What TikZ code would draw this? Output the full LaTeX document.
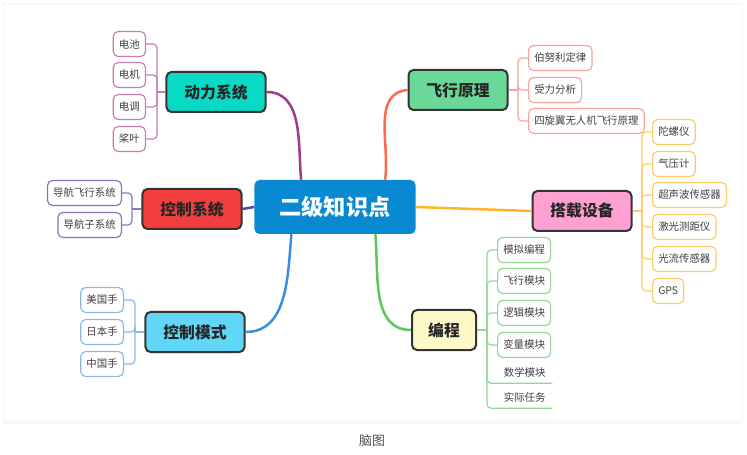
\documentclass[tikz,border=0pt]{standalone}
\usepackage{fontspec}
\setmainfont{Noto Sans CJK SC}
\usetikzlibrary{calc}

\definecolor{rootblue}{HTML}{0A89D3}
\definecolor{topicline}{HTML}{333333}
\definecolor{dlfill}{HTML}{08DAC6}
\definecolor{dlline}{HTML}{A03A8A}
\definecolor{dlleaf}{HTML}{C77DB2}
\definecolor{fxfill}{HTML}{6AD898}
\definecolor{fxline}{HTML}{FF6A4C}
\definecolor{fxleaf}{HTML}{F6A39A}
\definecolor{kzfill}{HTML}{F23E3E}
\definecolor{kzline}{HTML}{5A4AA8}
\definecolor{kzleaf}{HTML}{8676C4}
\definecolor{dzfill}{HTML}{FFA0D2}
\definecolor{dzline}{HTML}{FFB42C}
\definecolor{dzleaf}{HTML}{FFCB66}
\definecolor{bcfill}{HTML}{FFF8C8}
\definecolor{bcline}{HTML}{5CC85C}
\definecolor{bcleaf}{HTML}{92D892}
\definecolor{msfill}{HTML}{62D6F6}
\definecolor{msline}{HTML}{3A8EE0}
\definecolor{msleaf}{HTML}{8CB8E8}

\begin{document}
\begin{tikzpicture}[
    x=0.03cm, y=0.03cm,
    root/.style={rectangle, rounded corners=0.15cm, fill=rootblue, text=white,
        font=\fontsize{19}{19}\selectfont\bfseries, minimum width=4.83cm, minimum height=1.62cm},
    topic/.style={rectangle, rounded corners=0.15cm, draw=topicline, line width=0.06cm,
        font=\fontsize{13.5}{14}\selectfont\bfseries, text=black!85,
        minimum width=2.97cm, minimum height=1.2cm},
    leaf/.style={rectangle, rounded corners=0.15cm, draw=#1, line width=0.035cm, fill=white,
        font=\fontsize{8.9}{9}\selectfont, text=black!75, inner xsep=0.17cm, minimum height=0.75cm},
    plainleaf/.style={rectangle, font=\fontsize{8.9}{9}\selectfont, text=black!75,
        inner xsep=0.17cm, minimum width=1.65cm, minimum height=0.6cm},
    branch/.style={line width=0.075cm, draw=#1},
    spine/.style={line width=0.035cm, rounded corners=0.12cm, draw=#1}
]

\useasboundingbox (0,0) rectangle (747,-455);

%-------------------------------------------------
% Card
%-------------------------------------------------
\fill[black!3] (3,-3) rectangle (743,-424);
\fill[black!2] (4,-4) rectangle (742,-422);
\fill[white] (5,-5) rectangle (741,-420);

%-------------------------------------------------
% Root and topics
%-------------------------------------------------
\node[root] (root) at (335,-207) {二级知识点};

\node[topic, fill=dlfill] (dongli)    at (216,-92)  {动力系统};
\node[topic, fill=fxfill] (feixing)   at (458,-90)  {飞行原理};
\node[topic, fill=kzfill] (kongzhi)   at (192,-209) {控制系统};
\node[topic, fill=dzfill] (dazai)     at (582,-211) {搭载设备};
\node[topic, fill=bcfill, minimum width=1.92cm] (biancheng) at (444,-330) {编程};
\node[topic, fill=msfill] (moshi)     at (195,-332) {控制模式};

%-------------------------------------------------
% Main branches
%-------------------------------------------------
\draw[branch=dlline] ($(root.north west)!0.29!(root.north east)$) to[out=95, in=0] (dongli.east);
\draw[branch=fxline] ($(root.north west)!0.81!(root.north east)$) to[out=82, in=185] (feixing.west);
\draw[branch=kzline] (root.west) -- (kongzhi.east);
\draw[branch=dzline] (root.east) -- (dazai.west);
\draw[branch=bcline] ($(root.south west)!0.75!(root.south east)$) to[out=-85, in=180] (biancheng.west);
\draw[branch=msline] ($(root.south west)!0.23!(root.south east)$) to[out=-95, in=0] (moshi.east);

%-------------------------------------------------
% 动力系统
%-------------------------------------------------
\node[leaf=dlleaf, anchor=east] (dl1) at (146,-44)  {电池};
\node[leaf=dlleaf, anchor=east] (dl2) at (146,-75)  {电机};
\node[leaf=dlleaf, anchor=east] (dl3) at (146,-107) {电调};
\node[leaf=dlleaf, anchor=east] (dl4) at (146,-139) {桨叶};
\coordinate (dlj) at (157,-92);
\draw[dlleaf, line width=0.035cm] (dongli.west) -- (dlj);
\foreach \n in {dl1,dl2,dl3,dl4}
    \draw[spine=dlleaf] (dlj) |- (\n.east);

%-------------------------------------------------
% 飞行原理
%-------------------------------------------------
\node[leaf=fxleaf, anchor=west] (fx1) at (528,-58)  {伯努利定律};
\node[leaf=fxleaf, anchor=west] (fx2) at (528,-90)  {受力分析};
\node[leaf=fxleaf, anchor=west] (fx3) at (528,-121) {四旋翼无人机飞行原理};
\coordinate (fxj) at (518,-90);
\draw[fxleaf, line width=0.035cm] (feixing.east) -- (fxj);
\foreach \n in {fx1,fx2,fx3}
    \draw[spine=fxleaf] (fxj) |- (\n.west);

%-------------------------------------------------
% 控制系统
%-------------------------------------------------
\node[leaf=kzleaf, anchor=east] (kz1) at (122,-193) {导航飞行系统};
\node[leaf=kzleaf, anchor=east] (kz2) at (122,-225) {导航子系统};
\coordinate (kzj) at (132,-209);
\draw[kzleaf, line width=0.035cm] (kongzhi.west) -- (kzj);
\foreach \n in {kz1,kz2}
    \draw[spine=kzleaf] (kzj) |- (\n.east);

%-------------------------------------------------
% 搭载设备
%-------------------------------------------------
\node[leaf=dzleaf, anchor=west] (dz1) at (652,-132) {陀螺仪};
\node[leaf=dzleaf, anchor=west] (dz2) at (652,-164) {气压计};
\node[leaf=dzleaf, anchor=west] (dz3) at (652,-195) {超声波传感器};
\node[leaf=dzleaf, anchor=west] (dz4) at (652,-227) {激光测距仪};
\node[leaf=dzleaf, anchor=west] (dz5) at (652,-259) {光流传感器};
\node[leaf=dzleaf, anchor=west] (dz6) at (652,-291) {GPS};
\coordinate (dzj) at (642,-211);
\draw[dzleaf, line width=0.035cm] (dazai.east) -- (dzj);
\foreach \n in {dz1,dz2,dz3,dz4,dz5,dz6}
    \draw[spine=dzleaf] (dzj) |- (\n.west);

%-------------------------------------------------
% 编程
%-------------------------------------------------
\node[leaf=bcleaf, anchor=west] (bc1) at (497,-250) {模拟编程};
\node[leaf=bcleaf, anchor=west] (bc2) at (497,-281) {飞行模块};
\node[leaf=bcleaf, anchor=west] (bc3) at (497,-313) {逻辑模块};
\node[leaf=bcleaf, anchor=west] (bc4) at (497,-345) {变量模块};
\node[plainleaf, anchor=west] (bc5) at (497,-373) {数学模块};
\node[plainleaf, anchor=west] (bc6) at (497,-398) {实际任务};
\coordinate (bcj) at (487,-330);
\draw[bcleaf, line width=0.035cm] (biancheng.east) -- (bcj);
\foreach \n in {bc1,bc2,bc3,bc4}
    \draw[spine=bcleaf] (bcj) |- (\n.west);
\foreach \n in {bc5,bc6}
    \draw[spine=bcleaf] (bcj) |- (\n.south east);

%-------------------------------------------------
% 控制模式
%-------------------------------------------------
\node[leaf=msleaf, anchor=east] (ms1) at (124,-300) {美国手};
\node[leaf=msleaf, anchor=east] (ms2) at (124,-332) {日本手};
\node[leaf=msleaf, anchor=east] (ms3) at (124,-364) {中国手};
\coordinate (msj) at (135,-332);
\draw[msleaf, line width=0.035cm] (moshi.west) -- (msj);
\foreach \n in {ms1,ms2,ms3}
    \draw[spine=msleaf] (msj) |- (\n.east);

%-------------------------------------------------
% Caption
%-------------------------------------------------
\node[font=\fontsize{11}{11}\selectfont, text=black!70] (caption) at (372,-441) {脑图};

\end{tikzpicture}
\end{document}
